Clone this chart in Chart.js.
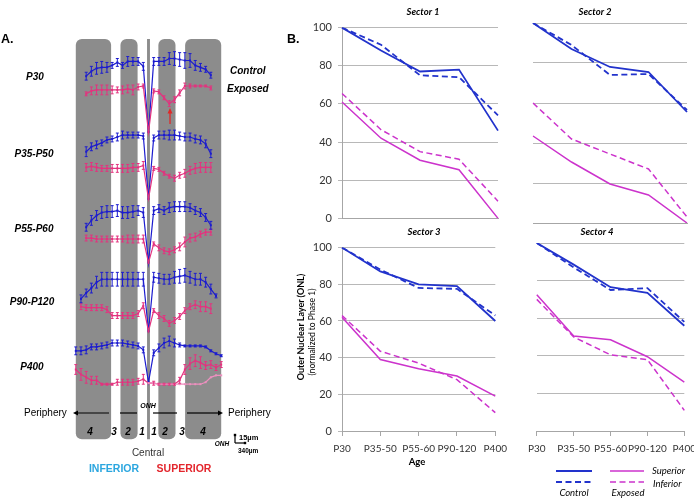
<!DOCTYPE html>
<html><head><meta charset="utf-8">
<script src="https://cdn.jsdelivr.net/npm/chart.js@4/dist/chart.umd.min.js"></script>
<style>
html,body{margin:0;padding:0;background:#fff;}
body{width:694px;height:499px;position:relative;overflow:hidden;font-family:"Liberation Sans",Arial,sans-serif;color:#000;}
canvas{position:absolute;}
.t{position:absolute;white-space:nowrap;line-height:1;}
.c{transform:translate(-50%,-50%);}
.l{transform:translate(0,-50%);}
.bi{font-weight:bold;font-style:italic;}
.lato{font-family:Lato,"Open Sans",sans-serif;}
svg{position:absolute;left:0;top:0;}
</style></head><body>

<canvas id="pa" width="169" height="420" style="left:64px;top:30px"></canvas>
<canvas id="s1" width="214" height="216" style="left:300px;top:15px"></canvas>
<canvas id="s2" width="182" height="216" style="left:521px;top:15px"></canvas>
<canvas id="s3" width="214" height="226" style="left:300px;top:235px"></canvas>
<canvas id="s4" width="182" height="226" style="left:521px;top:235px"></canvas>

<svg width="694" height="499">
  <g stroke="#000" stroke-width="1.2">
    <line x1="76" y1="413" x2="109" y2="413"/>
    <line x1="120" y1="413" x2="137" y2="413"/>
    <line x1="153" y1="413" x2="177" y2="413"/>
    <line x1="187" y1="413" x2="219" y2="413"/>
  </g>
  <polygon points="73,413 78,410.5 78,415.5" fill="#000"/>
  <polygon points="223,413 218,410.5 218,415.5" fill="#000"/>
  <line x1="170" y1="124" x2="170" y2="113" stroke="#e02828" stroke-width="1.3"/>
  <polygon points="170,108 167.5,113.5 172.5,113.5" fill="#e02828"/>
  <g stroke="#000" stroke-width="1.2">
    <line x1="235" y1="435" x2="235" y2="443"/>
    <line x1="235" y1="443" x2="245" y2="443"/>
  </g>
  <rect x="233.8" y="433.8" width="2.4" height="2.4" fill="#000"/>
  <rect x="243.8" y="441.8" width="2.4" height="2.4" fill="#000"/>
  <!-- legend B -->
  <line x1="556" y1="471" x2="592" y2="471" stroke="#2233cc" stroke-width="1.8"/>
  <line x1="556" y1="482" x2="592" y2="482" stroke="#2233cc" stroke-width="1.8" stroke-dasharray="6,3.5"/>
  <line x1="610" y1="471" x2="644" y2="471" stroke="#cc33cc" stroke-width="1.5"/>
  <line x1="610" y1="482" x2="644" y2="482" stroke="#cc33cc" stroke-width="1.5" stroke-dasharray="6,3.5"/>
</svg>

<!-- Panel A texts -->
<div class="t l" style="left:1px;top:39px;font-weight:bold;font-size:12.5px">A.</div>
<div class="t c bi" style="left:35px;top:77px;font-size:10px">P30</div>
<div class="t c bi" style="left:34px;top:154px;font-size:10px">P35-P50</div>
<div class="t c bi" style="left:34px;top:229px;font-size:10px">P55-P60</div>
<div class="t c bi" style="left:32px;top:302px;font-size:10px">P90-P120</div>
<div class="t c bi" style="left:32px;top:367px;font-size:10px">P400</div>
<div class="t l bi" style="left:230px;top:71px;font-size:10px">Control</div>
<div class="t l bi" style="left:227px;top:89px;font-size:10px">Exposed</div>
<div class="t c bi" style="left:148px;top:405px;font-size:7px">ONH</div>
<div class="t l" style="left:24px;top:413px;font-size:10px">Periphery</div>
<div class="t l" style="left:228px;top:413px;font-size:10px">Periphery</div>
<div class="t c bi" style="left:90px;top:432px;font-size:10px">4</div>
<div class="t c bi" style="left:114px;top:432px;font-size:10px">3</div>
<div class="t c bi" style="left:128px;top:432px;font-size:10px">2</div>
<div class="t c bi" style="left:142px;top:432px;font-size:10px">1</div>
<div class="t c bi" style="left:154px;top:432px;font-size:10px">1</div>
<div class="t c bi" style="left:165px;top:432px;font-size:10px">2</div>
<div class="t c bi" style="left:182px;top:432px;font-size:10px">3</div>
<div class="t c bi" style="left:203px;top:432px;font-size:10px">4</div>
<div class="t c" style="left:148px;top:453px;font-size:10px;color:#333">Central</div>
<div class="t c" style="left:114px;top:468px;font-size:10.5px;font-weight:bold;color:#2ba6df">INFERIOR</div>
<div class="t c" style="left:184px;top:468px;font-size:10.5px;font-weight:bold;color:#e3262d">SUPERIOR</div>
<div class="t l" style="left:239px;top:438px;font-size:7.5px;font-weight:bold">15µm</div>
<div class="t c bi" style="left:222px;top:444px;font-size:6.5px">ONH</div>
<div class="t l" style="left:238px;top:451px;font-size:6.5px;font-weight:bold">340µm</div>

<!-- Panel B texts -->
<div class="t l" style="left:287px;top:39px;font-weight:bold;font-size:12.5px">B.</div>
<div class="t c bi lato" style="left:423px;top:12px;font-size:9.5px">Sector 1</div>
<div class="t c bi lato" style="left:595px;top:12px;font-size:9.5px">Sector 2</div>
<div class="t c bi lato" style="left:424px;top:232px;font-size:9.5px">Sector 3</div>
<div class="t c bi lato" style="left:597px;top:232px;font-size:9.5px">Sector 4</div>
<div class="t lato" style="left:300px;top:327px;font-size:9px;font-weight:bold;transform:translate(-50%,-50%) rotate(-90deg)">Outer Nuclear Layer (ONL)</div>
<div class="t lato" style="left:312px;top:332px;font-size:8.5px;transform:translate(-50%,-50%) rotate(-90deg)">(normalized to Phase 1)</div>
<div class="t c lato" style="left:417px;top:462px;font-size:9.5px;font-weight:bold">Age</div>
<div class="t l lato" style="left:652px;top:471px;font-size:9.5px;font-style:italic">Superior</div>
<div class="t l lato" style="left:653px;top:484px;font-size:9.5px;font-style:italic">Inferior</div>
<div class="t c lato" style="left:574px;top:493px;font-size:9.5px;font-style:italic">Control</div>
<div class="t c lato" style="left:628px;top:493px;font-size:9.5px;font-style:italic">Exposed</div>

<script>
// ---------- Panel B data ----------
const ageLabels = ['P30','P35-50','P55-60','P90-120','P400'];
const s1CtrlSup = [100, 88, 77, 78, 46];
const s1CtrlInf = [100, 91, 75, 74, 54];
const s1ExpSup  = [61, 42, 30.5, 25.5, 0];
const s1ExpInf  = [65.5, 46.5, 35, 31, 9];
const s2CtrlSup = [100, 87, 78, 75.5, 55.5];
const s2CtrlInf = [100, 89, 74, 74.5, 56.5];
const s2ExpSup  = [43.5, 30.5, 19.5, 14, 0];
const s2ExpInf  = [60, 42, 34.5, 27, 3];
const s3CtrlSup = [100, 87, 80, 79, 60];
const s3CtrlInf = [100, 88, 78, 77.5, 63];
const s3ExpSup  = [62, 39, 34, 30, 19];
const s3ExpInf  = [63, 43.5, 37, 28, 10];
const s4CtrlSup = [100, 88.5, 76.5, 73.5, 56];
const s4CtrlInf = [100, 87, 75, 76, 58];
const s4ExpSup  = [72.5, 50.5, 48.5, 39.5, 26];
const s4ExpInf  = [70, 50, 40.5, 38, 11];
const yTicks = [0, 20, 40, 60, 80, 100];

// ---------- Panel A data (ONL profile, display units; inferior L, ONH, superior R) ----------
const rowNames = ['P30','P35-P50','P55-P60','P90-P120','P400'];
const onhCtrl = [320, 252, 187, 117, 65];
const onhExp  = [320, 252, 187, 117, 64];
const p30CtrlL = [377,382,385,386,386,388,391,388,392,392,392,387];
const p30CtrlR = [392,392,392,395,395,394,393,393,388,386,384,378];
const p30ExpL  = [359,362,363,363,363,363,363,363,364,363,366,367];
const p30ExpR  = [362,361,355,349,353,360,367,367,367,367,367,365];
const p35CtrlL = [300,305,307,309,312,313,315,317,317,317,317,316];
const p35CtrlR = [314,317,317,317,317,316,315,315,313,312,308,298];
const p35ExpL  = [284,285,284,283,283,283,283,283,283,284,284,286];
const p35ExpR  = [283,282,278,275,273,276,278,281,283,284,284,284];
const p55CtrlL = [223,230,235,238,239,239,240,238,238,239,240,238];
const p55CtrlR = [240,242,240,243,244,244,244,243,240,238,233,225];
const p55ExpL  = [212,212,211,211,211,211,211,211,211,211,211,211];
const p55ExpR  = [206,202,199,198,200,203,208,212,213,216,218,218];
const p90CtrlL = [150,156,161,167,170,170,170,170,170,170,170,170,170];
const p90CtrlR = [172,171,170,170,172,173,174,172,170,170,167,160,153];
const p90ExpL  = [142,141,141,141,141,139,133,133,133,133,133,135,143];
const p90ExpR  = [138,133,130,125,128,132,138,142,144,142,142,140];
const p400CtrlL = [97,97,98,101,101,102,103,105,105,105,104,103,102,98];
const p400CtrlR = [95,100,105,107,105,103,102,102,102,102,101,97,94,92];
const p400ExpL  = [78,73,70,67,67,63,63,63,65,65,65,65,66,68];
const p400ExpR  = [64,63,63,63,63,67,78,84,87,85,82,83,80,83];
const p400Exp2R = [64,63,63,63,63,63,63,63,63,63,65,70,72,72];
// error bar half-lengths
const p30CtrlLe = [4,5,6,6,5,3,4,3,5,4,4,4];
const p30CtrlRe = [4,4,4,6,7,7,8,7,5,4,3,3];
const p30ExpLe  = [2,4,5,5,5,4,3,4,4,5,3,2];
const p30ExpRe  = [2,2,2,3,3,3,3,2,1,1,1,2];
const p35CtrlLe = [5,4,4,3,3,3,4,4,3,3,3,3];
const p35CtrlRe = [3,4,4,5,5,4,4,4,4,4,4,4];
const p35ExpLe  = [4,4,4,3,3,4,4,4,4,4,4,4];
const p35ExpRe  = [2,2,2,2,3,3,4,4,5,5,5,5];
const p55CtrlLe = [4,5,5,6,6,6,6,6,6,6,5,5];
const p55CtrlRe = [4,4,4,5,5,5,5,4,4,4,4,4];
const p55ExpLe  = [3,3,3,3,3,3,3,3,4,4,4,4];
const p55ExpRe  = [2,3,3,3,3,4,5,4,4,3,3,3];
const p90CtrlLe = [4,4,5,6,7,7,7,7,7,7,7,7,7];
const p90CtrlRe = [5,5,5,5,6,7,7,6,6,6,5,5,2];
const p90ExpLe  = [3,3,3,3,3,3,3,3,3,3,3,3,3];
const p90ExpRe  = [2,3,3,3,3,3,3,3,4,5,5,5];
const p400CtrlLe = [4,4,4,3,3,3,3,3,3,3,3,3,3,3];
const p400CtrlRe = [3,4,5,5,4,2,1,1,1,1,1,1,1,1];
const p400ExpLe  = [5,6,6,4,4,1,1,1,3,3,3,3,3,5];
const p400ExpRe  = [2,1,1,1,1,3,5,6,6,6,4,4,3,3];

const BLUE_B = '#2233cc', MAG_B = '#cc33cc';
const BLUE_A = '#1c1ccf', PINK_A = '#e3337f', PINK2_A = '#ee8fbf';
Chart.defaults.animation = false;

// ---------- Panel A ----------
function profile(left, c, right){
  const pts = left.map((v,i)=>({x:-(left.length - i), y:v}));
  pts.push({x:0, y:c});
  right.forEach((v,i)=>pts.push({x:i+1, y:v}));
  return pts;
}
function errs(left, right){ return left.concat([0], right); }
const rowsA = [
  [p30CtrlL,p30CtrlR,p30ExpL,p30ExpR,p30CtrlLe,p30CtrlRe,p30ExpLe,p30ExpRe],
  [p35CtrlL,p35CtrlR,p35ExpL,p35ExpR,p35CtrlLe,p35CtrlRe,p35ExpLe,p35ExpRe],
  [p55CtrlL,p55CtrlR,p55ExpL,p55ExpR,p55CtrlLe,p55CtrlRe,p55ExpLe,p55ExpRe],
  [p90CtrlL,p90CtrlR,p90ExpL,p90ExpR,p90CtrlLe,p90CtrlRe,p90ExpLe,p90ExpRe],
  [p400CtrlL,p400CtrlR,p400ExpL,p400ExpR,p400CtrlLe,p400CtrlRe,p400ExpLe,p400ExpRe]
];
const dsA = [];
function lineDs(label, pts, color, e){
  return {label, data: pts, errs: e, borderColor: color, backgroundColor: color,
    borderWidth: 1.2, pointRadius: 1.4, pointStyle: 'rect', pointBorderWidth: 0,
    pointBackgroundColor: color, tension: 0, fill: false};
}
dsA.push(lineDs('P400 Exposed (2)', profile([], onhExp[4], p400Exp2R), PINK2_A, null));
rowsA.forEach((r, k)=>{
  dsA.push(lineDs(rowNames[k]+' Exposed', profile(r[2], onhExp[k], r[3]), PINK_A, errs(r[6], r[7])));
});
rowsA.forEach((r, k)=>{
  dsA.push(lineDs(rowNames[k]+' Control', profile(r[0], onhCtrl[k], r[1]), BLUE_A, errs(r[4], r[5])));
});

// background retinal sector bands (x in profile units, y in display units)
const sectorBands = [[-14.0,-7.2,6],[-5.4,-2.1,6],[-0.28,0.28,0],[1.9,5.2,6],[7.05,14.0,6]];
const bandYRange = [7, 415];
const bandPlugin = {
  id:'bands',
  beforeDatasetsDraw(chart){
    const {ctx, scales:{x, y}} = chart;
    ctx.save();
    ctx.fillStyle = '#8c8c8c';
    sectorBands.forEach(b=>{
      const x0 = x.getPixelForValue(b[0]), x1 = x.getPixelForValue(b[1]);
      const y0 = y.getPixelForValue(bandYRange[1]), y1 = y.getPixelForValue(bandYRange[0]);
      ctx.beginPath();
      if (b[2] > 0) ctx.roundRect(x0, y0, x1-x0, y1-y0, b[2]); else ctx.rect(x0, y0, x1-x0, y1-y0);
      ctx.fill();
    });
    ctx.restore();
  }
};
const errPlugin = {
  id:'errbars',
  afterDatasetsDraw(chart){
    const {ctx, scales:{y}} = chart;
    ctx.save();
    chart.data.datasets.forEach((ds, i)=>{
      if (!ds.errs) return;
      const meta = chart.getDatasetMeta(i);
      ctx.strokeStyle = ds.borderColor; ctx.lineWidth = 1;
      meta.data.forEach((p, j)=>{
        const e = ds.errs[j]; if (!e) return;
        const v = ds.data[j].y;
        const ya = y.getPixelForValue(v + e), yb = y.getPixelForValue(v - e);
        ctx.beginPath();
        ctx.moveTo(p.x, ya); ctx.lineTo(p.x, yb);
        ctx.moveTo(p.x-1.5, ya); ctx.lineTo(p.x+1.5, ya);
        ctx.moveTo(p.x-1.5, yb); ctx.lineTo(p.x+1.5, yb);
        ctx.stroke();
      });
    });
    ctx.restore();
  }
};
new Chart(document.getElementById('pa'), {
  type:'line',
  data:{datasets: dsA},
  options:{
    responsive:false, devicePixelRatio:1, animation:false,
    layout:{padding:0},
    plugins:{legend:{display:false}, tooltip:{enabled:false}},
    scales:{
      x:{type:'linear', min:-15.5, max:15.5, display:false},
      y:{type:'linear', min:0, max:420, display:false}
    }
  },
  plugins:[bandPlugin, errPlugin]
});

// ---------- Panel B ----------
function sector(id, series, showY, showX){
  const mk = (d, c, dash, w)=>({data:d, borderColor:c, borderWidth:w, borderDash:dash,
    pointRadius:0, tension:0, fill:false});
  new Chart(document.getElementById(id), {
    type:'line',
    data:{labels: ageLabels, datasets:[
      mk(series[2], MAG_B, [], 1.5),
      mk(series[3], MAG_B, [6,3.5], 1.5),
      mk(series[0], BLUE_B, [], 1.8),
      mk(series[1], BLUE_B, [6,3.5], 1.8)
    ]},
    options:{
      responsive:false, devicePixelRatio:1, animation:false,
      layout:{padding:{left: showY?0:12, top:8, right:16, bottom: showX?0:8}},
      plugins:{legend:{display:false}, tooltip:{enabled:false}},
      scales:{
        x:{
          grid:{display:true, drawOnChartArea:false, drawTicks:showX, tickLength:5, color:'#a6a6a6'},
          border:{color:'#a6a6a6'},
          ticks:{display:showX, maxRotation:0, minRotation:0, autoSkip:false, padding:7,
            font:{family:'Lato', size:10}, color:'#333'},
          afterFit(s){ s.height = showX ? 30 : 0; }
        },
        y:{
          min:0, max:100,
          afterBuildTicks(s){ s.ticks = yTicks.map(v=>({value:v})); },
          ticks:{display:showY, padding:6, font:{family:'Lato', size:11}, color:'#333'},
          grid:{color:'#b8b8b8', drawTicks:showY, tickLength:4},
          border:{display:showY, color:'#a6a6a6'},
          afterFit(s){ s.width = showY ? 42 : 0; }
        }
      }
    }
  });
}
sector('s1', [s1CtrlSup, s1CtrlInf, s1ExpSup, s1ExpInf], true, false);
sector('s2', [s2CtrlSup, s2CtrlInf, s2ExpSup, s2ExpInf], false, false);
sector('s3', [s3CtrlSup, s3CtrlInf, s3ExpSup, s3ExpInf], true, true);
sector('s4', [s4CtrlSup, s4CtrlInf, s4ExpSup, s4ExpInf], false, true);
</script>
</body></html>
